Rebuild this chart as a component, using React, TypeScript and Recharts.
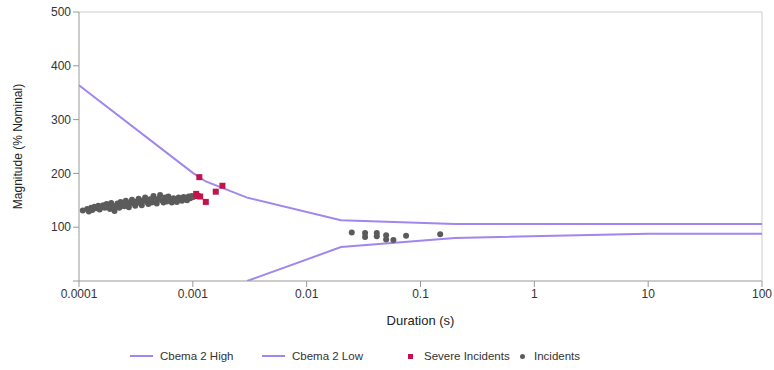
import {
  ComposedChart,
  Line,
  Scatter,
  XAxis,
  YAxis,
  Legend,
  ReferenceLine,
} from "recharts";

const cbemaHigh = [
  { x: 0.0001, y: 364 },
  { x: 0.001, y: 201 },
  { x: 0.0013, y: 185 },
  { x: 0.003, y: 155 },
  { x: 0.02, y: 113 },
  { x: 0.2, y: 106 },
  { x: 100, y: 106 },
];

const cbemaLow = [
  { x: 0.003, y: 0 },
  { x: 0.02, y: 63 },
  { x: 0.2, y: 80 },
  { x: 10, y: 88 },
  { x: 100, y: 88 },
];

const severeIncidents = [
  { x: 0.00114, y: 193 },
  { x: 0.00182, y: 177 },
  { x: 0.00159, y: 166 },
  { x: 0.00107, y: 162 },
  { x: 0.0011, y: 158 },
  { x: 0.00116, y: 157 },
  { x: 0.0013, y: 147 },
];

const incidentsX = [
  0.000108, 0.000118, 0.000122, 0.000128, 0.000131, 0.000137, 0.000142, 0.000148,
  0.000152, 0.000158, 0.000163, 0.000169, 0.000175, 0.000181, 0.000187, 0.000192,
  0.000198, 0.000205, 0.000211, 0.000218, 0.000226, 0.000232, 0.000241, 0.000249,
  0.000258, 0.000266, 0.000274, 0.000283, 0.000292, 0.000301, 0.000312, 0.000322,
  0.000334, 0.000345, 0.000356, 0.000368, 0.000381, 0.000394, 0.000407, 0.000421,
  0.000436, 0.000451, 0.000466, 0.000482, 0.000499, 0.000516, 0.000533, 0.000552,
  0.000571, 0.00059, 0.00061, 0.000632, 0.000654, 0.000676, 0.0007, 0.000724,
  0.00075, 0.000776, 0.000803, 0.00083, 0.00086, 0.00089, 0.00092, 0.00095,
  0.00098, 0.00101,
  0.0249, 0.0326, 0.0326, 0.0413, 0.0413, 0.0499, 0.0499, 0.0578, 0.0747, 0.149,
];
const incidentsY = [
  131, 134, 129, 136, 132, 138, 135, 140,
  133, 137, 141, 136, 143, 139, 134, 145,
  140, 130, 138, 144, 136, 147, 141, 139,
  149, 143, 137, 146, 151, 144, 140, 148,
  153, 145, 141, 150, 155, 147, 143, 152,
  146, 158, 149, 144, 153, 160, 150, 146,
  155, 148, 157, 151, 146, 154, 150, 147,
  155, 151, 149, 156, 152, 150, 157, 154,
  158, 156,
  90, 89, 82, 89, 83, 85, 77, 76, 84, 87,
];
const incidents = incidentsX.map((x, i) => ({ x, y: incidentsY[i] }));

const xTicks = [0.0001, 0.001, 0.01, 0.1, 1, 10, 100];
const yTicks = [0, 100, 200, 300, 400, 500];

const LINE = "#a086ee";
const SEVERE = "#c2134a";
const GRAY = "#5b5b5b";
const FONT = '"Liberation Sans", Arial, sans-serif';

const tick = { fill: "#333", fontSize: 12, fontFamily: FONT };

function LegendContent() {
  const item = (w: number, icon: any, label: string) => (
    <div style={{ display: "flex", alignItems: "center", width: w }}>
      {icon}
      <span style={{ color: "#333", fontSize: 11.5, fontFamily: FONT }}>{label}</span>
    </div>
  );
  const lineIcon = (
    <div style={{ width: 23, height: 2, background: LINE, marginRight: 7 }} />
  );
  return (
    <div style={{ display: "flex", paddingLeft: 130, marginTop: 4 }}>
      {item(132, lineIcon, "Cbema 2 High")}
      {item(144, lineIcon, "Cbema 2 Low")}
      {item(114, <div style={{ width: 5, height: 5, background: SEVERE, marginLeft: 2, marginRight: 11 }} />, "Severe Incidents")}
      {item(
        100,
        <div style={{ width: 5, height: 5, borderRadius: 3, background: GRAY, marginLeft: 0, marginRight: 9 }} />,
        "Incidents"
      )}
    </div>
  );
}

export default function App() {
  return (
    <div style={{ position: "absolute", left: 0, top: 0, background: "#fff" }}>
      <ComposedChart width={774} height={370} margin={{ top: 12, right: 12, bottom: 4, left: 0 }}>
        <XAxis
          dataKey="x"
          type="number"
          scale="log"
          domain={[0.0001, 100]}
          ticks={xTicks}
          allowDataOverflow
          tick={tick}
          tickFormatter={(v) => String(v)}
          stroke="#999"
          height={65}
          label={{ value: "Duration (s)", position: "insideBottom", offset: 21, fill: "#222", fontSize: 13, fontFamily: FONT }}
        />
        <YAxis
          dataKey="y"
          type="number"
          domain={[0, 500]}
          ticks={yTicks}
          allowDataOverflow
          tick={tick}
          tickFormatter={(v) => (v === 0 ? "" : String(v))}
          stroke="#999"
          width={79}
          label={{
            value: "Magnitude (% Nominal)",
            angle: -90,
            position: "insideLeft",
            offset: 18,
            fill: "#222",
            fontSize: 12,
            fontFamily: FONT,
            style: { textAnchor: "middle" },
          }}
        />
        <ReferenceLine y={500} stroke="#ccc" />
        <ReferenceLine x={100} stroke="#ccc" />
        <Legend verticalAlign="bottom" height={20} content={<LegendContent />} />
        <Line data={cbemaHigh} dataKey="y" type="linear" stroke={LINE} strokeWidth={2} dot={false} isAnimationActive={false} />
        <Line data={cbemaLow} dataKey="y" type="linear" stroke={LINE} strokeWidth={2} dot={false} isAnimationActive={false} />
        <Scatter
          data={incidents}
          dataKey="y"
          isAnimationActive={false}
          shape={(p: any) => <circle cx={p.cx} cy={p.cy} r={3} fill={GRAY} />}
        />
        <Scatter
          data={severeIncidents}
          dataKey="y"
          isAnimationActive={false}
          shape={(p: any) => <rect x={p.cx - 3} y={p.cy - 3} width={6} height={6} fill={SEVERE} />}
        />
      </ComposedChart>
    </div>
  );
}
